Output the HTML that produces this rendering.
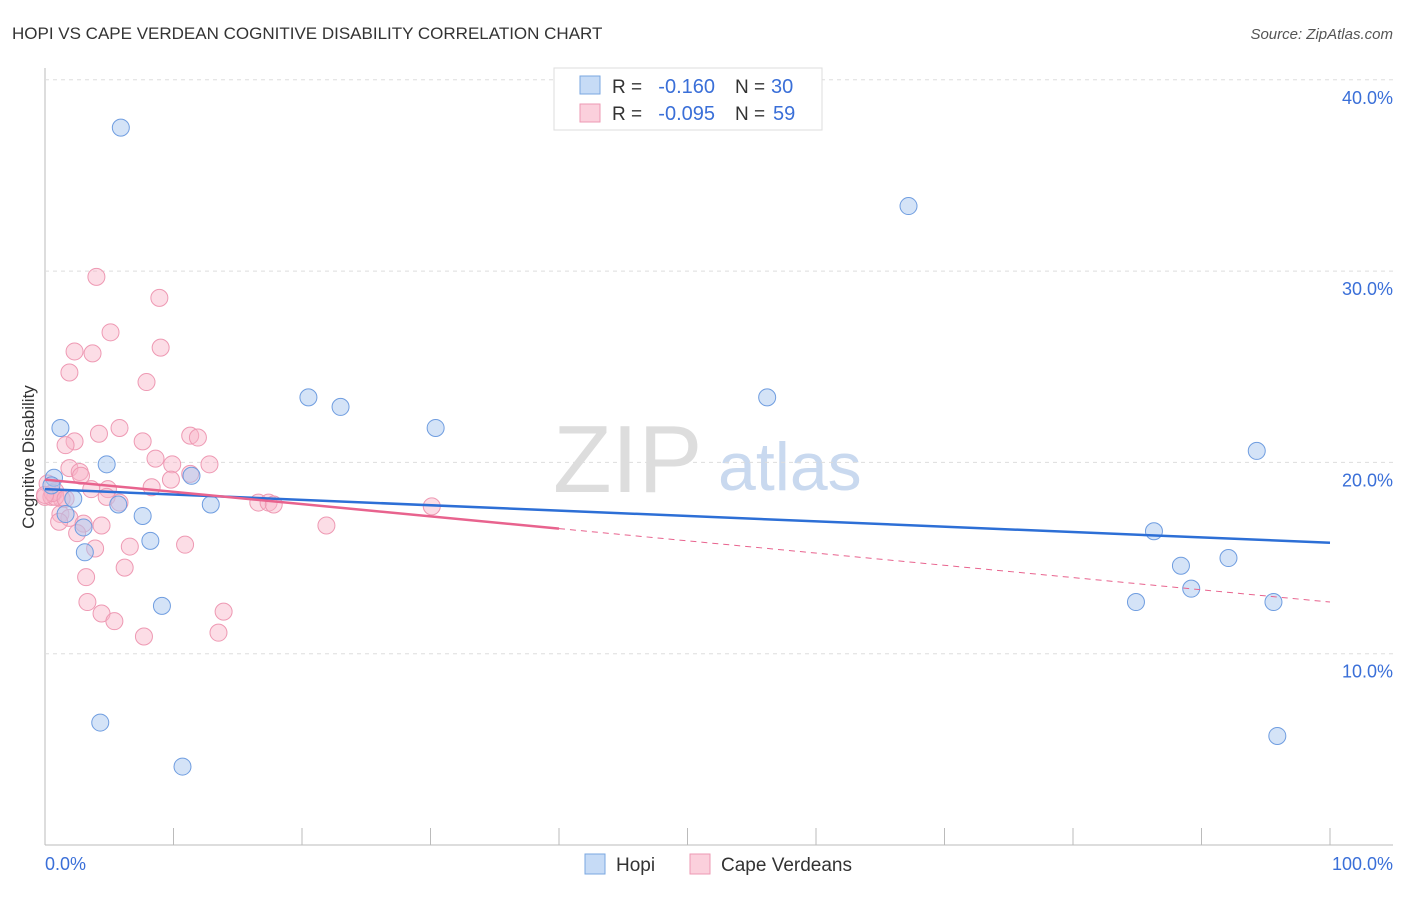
<!DOCTYPE html>
<html><head><meta charset="utf-8"><style>
body{margin:0;background:#fff;font-family:"Liberation Sans",sans-serif;}
svg text{font-family:"Liberation Sans",sans-serif;}
</style></head><body>
<svg id="c" width="1406" height="892">
<text x="12" y="39" font-size="17" fill="#333">HOPI VS CAPE VERDEAN COGNITIVE DISABILITY CORRELATION CHART</text>
<text x="1393" y="39" font-size="15" fill="#555" font-style="italic" text-anchor="end">Source: ZipAtlas.com</text>
<text x="34" y="457" font-size="17" fill="#333" transform="rotate(-90 34 457)" text-anchor="middle">Cognitive Disability</text>
<text x="553" y="492" font-size="96" fill="#ddd" font-family="Liberation Serif">ZIP</text>
<text x="718" y="490" font-size="68" fill="#c9d9ef">atlas</text>
<g id="grid"></g><g id="pts"></g><g id="lines"></g>
<g>
<rect x="554" y="68" width="268" height="62" fill="#fff" stroke="#ddd"/>
<rect x="580" y="76" width="20" height="18" fill="#c6dbf6" stroke="#7aa7e0"/>
<rect x="580" y="104" width="20" height="18" fill="#fbd0dc" stroke="#ee99b3"/>
<text x="612" y="93" font-size="19" fill="#333">R =</text>
<text x="715" y="93" font-size="20" fill="#3a6fd8" text-anchor="end">-0.160</text>
<text x="735" y="93" font-size="19" fill="#333">N =</text>
<text x="771" y="93" font-size="20" fill="#3a6fd8">30</text>
<text x="612" y="120" font-size="19" fill="#333">R =</text>
<text x="715" y="120" font-size="20" fill="#3a6fd8" text-anchor="end">-0.095</text>
<text x="735" y="120" font-size="19" fill="#333">N =</text>
<text x="773" y="120" font-size="20" fill="#3a6fd8">59</text>
</g>
<g>
<rect x="585" y="854" width="20" height="20" fill="#c6dbf6" stroke="#7aa7e0"/>
<text x="616" y="871" font-size="19" fill="#333">Hopi</text>
<rect x="690" y="854" width="20" height="20" fill="#fbd0dc" stroke="#ee99b3"/>
<text x="721" y="871" font-size="19" fill="#333">Cape Verdeans</text>
</g>
<text x="45" y="870" font-size="18" fill="#3a6fd8">0.0%</text>
<text x="1393" y="870" font-size="18" fill="#3a6fd8" text-anchor="end">100.0%</text>
</svg>
<script>
const yTicks=[10,20,30,40];
const hopiX=[5.9,67.2,20.5,23.0,30.4,56.2,94.3,1.2,4.8,11.4,0.7,0.5,2.2,5.7,12.9,7.6,1.6,3.0,8.2,3.1,86.3,88.4,92.1,89.2,84.9,95.6,9.1,4.3,95.9,10.7];
const hopiY=[37.5,33.4,23.4,22.9,21.8,23.4,20.6,21.8,19.9,19.3,19.2,18.8,18.1,17.8,17.8,17.2,17.3,16.6,15.9,15.3,16.4,14.6,15.0,13.4,12.7,12.7,12.5,6.4,5.7,4.1];
const cvX=[4.0,8.9,5.1,9.0,2.3,3.7,1.9,7.9,5.8,4.2,2.3,7.6,1.6,11.3,11.9,8.6,9.9,12.8,1.9,2.7,2.8,11.3,9.8,8.3,4.9,3.6,4.8,0.2,0.8,0.0,0.5,1.3,5.8,16.6,17.4,17.8,30.1,1.2,1.9,3.0,4.4,21.9,1.1,2.5,3.9,6.6,10.9,6.2,3.2,3.3,4.4,13.9,5.4,13.5,7.7,0.8,0.6,1.6,0.0];
const cvY=[29.7,28.6,26.8,26.0,25.8,25.7,24.7,24.2,21.8,21.5,21.1,21.1,20.9,21.4,21.3,20.2,19.9,19.9,19.7,19.5,19.3,19.4,19.1,18.7,18.6,18.6,18.2,18.9,18.5,18.2,18.2,18.1,17.9,17.9,17.9,17.8,17.7,17.3,17.1,16.8,16.7,16.7,16.9,16.3,15.5,15.6,15.7,14.5,14.0,12.7,12.1,12.2,11.7,11.1,10.9,18.2,18.4,18.1,18.3];
const hopiFit=[18.6,15.8];
const cvFit=[19.1,12.7];
const X=v=>45+v/100*1285, Y=v=>845-v*19.13;
const NS='http://www.w3.org/2000/svg';
function mk(t,a,p){const e=document.createElementNS(NS,t);for(const k in a)e.setAttribute(k,a[k]);p.appendChild(e);return e;}
const g=document.getElementById('grid');
const ax=mk('line',{x1:45,y1:68,x2:45,y2:845,stroke:'#bbb'},g);


const bx=mk('line',{x1:45,y1:845,x2:1393,y2:845,stroke:'#bbb'},g);


for(let i=1;i<=10;i++){const t=mk('line',{x1:45+i*128.5,y1:828,x2:45+i*128.5,y2:845,stroke:'#bbb'},g);

}
yTicks.forEach(v=>{const l=mk('line',{x1:45,y1:Y(v),x2:1393,y2:Y(v),stroke:'#ddd','stroke-dasharray':'4,4'},g);


const t=mk('text',{x:1393,y:Y(v)+24,'font-size':18,fill:'#3a6fd8','text-anchor':'end'},g);t.textContent=v.toFixed(1)+'%';

});
const p=document.getElementById('pts');
cvX.forEach((x,i)=>{const c=mk('circle',{cx:X(x),cy:Y(cvY[i]),r:8.5,fill:'rgba(248,180,200,0.45)',stroke:'#ee99b3','stroke-width':1},p);

});
hopiX.forEach((x,i)=>{const c=mk('circle',{cx:X(x),cy:Y(hopiY[i]),r:8.5,fill:'rgba(170,200,240,0.5)',stroke:'#6f9de0','stroke-width':1},p);

});
const L=document.getElementById('lines');
const h=mk('line',{x1:X(0),y1:Y(hopiFit[0]),x2:X(100),y2:Y(hopiFit[1]),stroke:'#2d6fd6','stroke-width':2.5},L);


const cy=v=>cvFit[0]+(cvFit[1]-cvFit[0])*v/100;
const c1=mk('line',{x1:X(0),y1:Y(cy(0)),x2:X(40),y2:Y(cy(40)),stroke:'#e8638e','stroke-width':2.5},L);


const c2=mk('line',{x1:X(40),y1:Y(cy(40)),x2:X(100),y2:Y(cy(100)),stroke:'#e8638e','stroke-width':1,'stroke-dasharray':'6,5'},L);


</script>
</body></html>
